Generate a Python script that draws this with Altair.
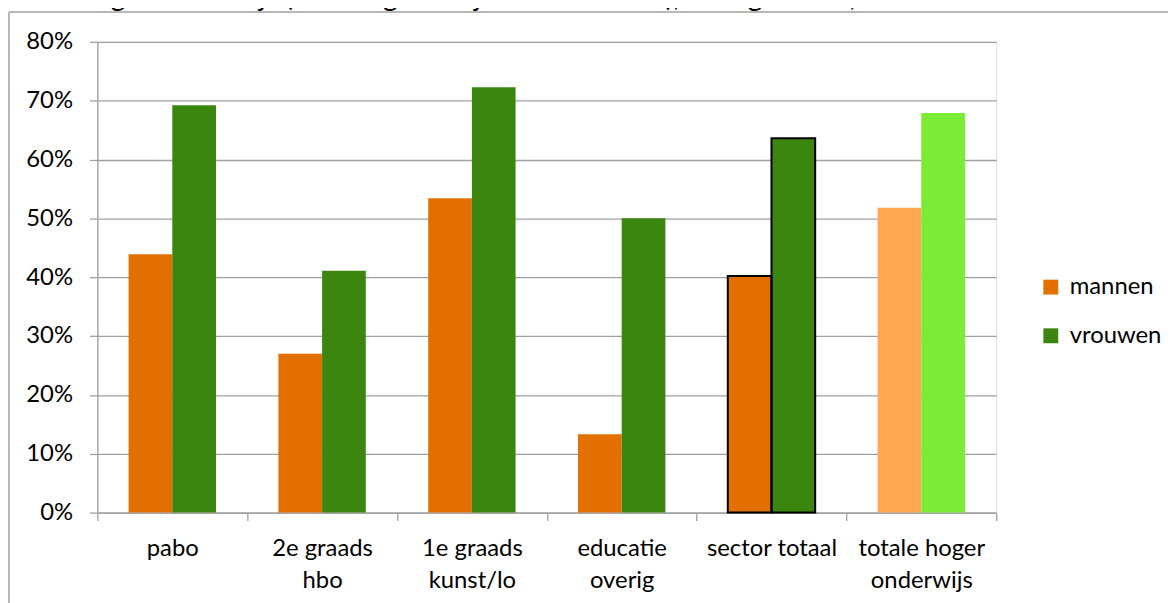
import altair as alt
import pandas as pd

categorieen = ["pabo", "2e graads\nhbo", "1e graads\nkunst/lo", "educatie\noverig",
               "sector totaal", "totale hoger\nonderwijs"]
geslachten = ["mannen", "vrouwen"]
mannen = [43.9, 27.0, 53.4, 13.3, 40.2, 51.8]
vrouwen = [69.2, 41.1, 72.3, 50.0, 63.6, 67.9]
y_ticks = [0, 10, 20, 30, 40, 50, 60, 70, 80]
titel = ["totale hoger onderwijs (bekostigd voltijd hbo bachelor), naar geslacht, 2016"]

rows = []
for c, m, v in zip(categorieen, mannen, vrouwen):
    rows.append({"categorie": c, "geslacht": "mannen", "waarde": m})
    rows.append({"categorie": c, "geslacht": "vrouwen", "waarde": v})
df = pd.DataFrame(rows)

FONT = "Lato"
GRID = "#A0A0A0"
SECTOR = categorieen[4]
TOTAAL = categorieen[5]

x_enc = alt.X(
    "categorie:N",
    sort=categorieen,
    scale=alt.Scale(domain=categorieen, paddingInner=0, paddingOuter=0),
    axis=alt.Axis(
        title=None, labelAngle=0, tickBand="extent", grid=False,
        domainColor=GRID, domainWidth=1.3, tickColor=GRID, tickWidth=1.3, tickSize=8,
        labelFont=FONT, labelFontSize=24, labelColor="black", labelPadding=16,
        labelLineHeight=32, labelExpr="split(datum.label, '\\n')", labelLimit=0,
    ),
)
xo_enc = alt.XOffset(
    "geslacht:N", sort=geslachten,
    scale=alt.Scale(domain=geslachten, paddingInner=0, paddingOuter=0.714),
)
y_enc = alt.Y(
    "waarde:Q",
    scale=alt.Scale(domain=[0, 80], nice=False),
    axis=alt.Axis(
        title=None, values=y_ticks, labelExpr="datum.value + '%'",
        grid=True, gridColor=GRID, gridWidth=1.3,
        domainColor=GRID, domainWidth=1.3, tickColor=GRID, tickWidth=1.3, tickSize=8,
        labelFont=FONT, labelFontSize=24, labelColor="black", labelPadding=17,
    ),
)

base = alt.Chart(df).encode(x=x_enc, xOffset=xo_enc, y=y_enc)

bars = base.transform_filter(alt.datum.categorie != TOTAAL).mark_bar().encode(
    color=alt.Color(
        "geslacht:N", sort=geslachten,
        scale=alt.Scale(domain=geslachten, range=["#E26F00", "#3A860F"]),
        legend=alt.Legend(
            title=None, orient="none", legendX=948, legendY=235, direction="vertical",
            symbolType="square", symbolSize=225, symbolStrokeWidth=0,
            labelFont=FONT, labelFontSize=24, labelColor="black", labelOffset=7,
            rowPadding=25, padding=0,
        ),
    )
)

outline = base.transform_filter(alt.datum.categorie == SECTOR).mark_bar(
    fillOpacity=0, stroke="black", strokeWidth=2
)

totaal = base.transform_filter(alt.datum.categorie == TOTAAL).mark_bar().encode(
    fill=alt.condition(alt.datum.geslacht == "mannen", alt.value("#FFA852"), alt.value("#7AEC36"))
)

frame_df = pd.DataFrame({"k": [0]})
left_border = alt.Chart(frame_df).mark_rule(color=GRID, strokeWidth=1.5).encode(
    x=alt.value(-89), y=alt.value(-30), y2=alt.value(700)
)
top_border = alt.Chart(frame_df).mark_rule(color=GRID, strokeWidth=1.5).encode(
    x=alt.value(-89), x2=alt.value(1300), y=alt.value(-30)
)
title_text = alt.Chart(pd.DataFrame({"t": titel})).mark_text(
    align="left", baseline="alphabetic", font=FONT, fontSize=28.5, color="black"
).encode(x=alt.value(-98), y=alt.value(-36), text="t:N")

chart = alt.layer(
    bars, outline, totaal, left_border, top_border, title_text
).properties(
    width=905, height=474,
    autosize=alt.AutoSizeParams(type="none"),
    padding={"left": 90, "top": 32, "right": 173, "bottom": 89},
).configure_view(stroke=None).configure(background="white")

chart.save("out.html", embed_options={"renderer": "svg", "actions": False})
